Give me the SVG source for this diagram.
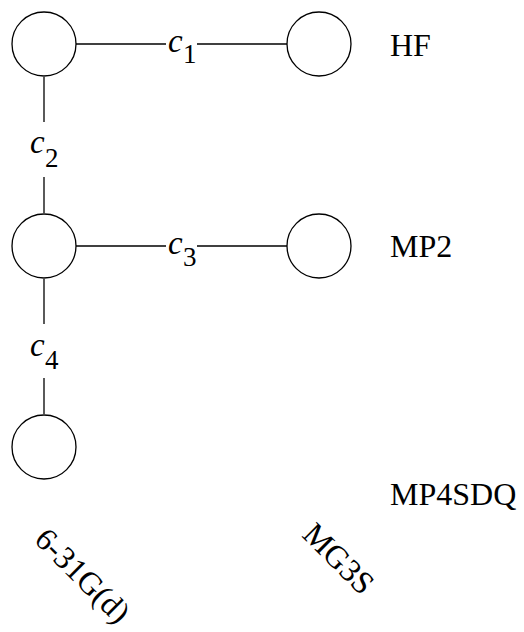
<svg xmlns="http://www.w3.org/2000/svg" width="524" height="632" viewBox="0 0 524 632">
<style>
.n{fill:#fff;stroke:#000;stroke-width:1.3}
.e{stroke:#000;stroke-width:1.3;fill:none}
.t{font-family:"Liberation Serif","Times New Roman",serif;font-size:32px;fill:#000}
.c{font-family:"Liberation Serif","Times New Roman",serif;font-style:italic;font-size:33px;fill:#000}
.s{font-family:"Liberation Serif","Times New Roman",serif;font-size:27px;fill:#000}
</style>
<rect width="524" height="632" fill="#fff"/>
<g id="connectors">
<line class="e" x1="76" y1="44" x2="166" y2="44"/>
<line class="e" x1="197" y1="44" x2="287" y2="44"/>
<line class="e" x1="76" y1="246" x2="166" y2="246"/>
<line class="e" x1="197" y1="246" x2="287" y2="246"/>
<line class="e" x1="44" y1="77" x2="44" y2="122"/>
<line class="e" x1="44" y1="177" x2="44" y2="213"/>
<line class="e" x1="44" y1="279" x2="44" y2="324"/>
<line class="e" x1="44" y1="378" x2="44" y2="414"/>
<text class="c" x="168" y="52">c</text><text class="s" x="183" y="63">1</text>
<text class="c" x="30" y="153">c</text><text class="s" x="45" y="167">2</text>
<text class="c" x="168" y="254">c</text><text class="s" x="183" y="266">3</text>
<text class="c" x="30" y="356">c</text><text class="s" x="45" y="369">4</text>
</g>
<g id="n1"><circle class="n" cx="44" cy="44" r="32"/></g>
<g id="n2"><circle class="n" cx="319" cy="44" r="32"/></g>
<g id="n3"><circle class="n" cx="44" cy="246" r="32"/></g>
<g id="n4"><circle class="n" cx="319" cy="246" r="32"/></g>
<g id="n5"><circle class="n" cx="44" cy="447" r="32"/></g>
<g id="labels">
<text class="t" x="390" y="56">HF</text>
<text class="t" x="390" y="257">MP2</text>
<text class="t" x="390" y="505">MP4SDQ</text>
<text class="t" transform="translate(33,541) rotate(45)">6-31G(d)</text>
<text class="t" transform="translate(301,536) rotate(45)">MG3S</text>
</g>
</svg>
